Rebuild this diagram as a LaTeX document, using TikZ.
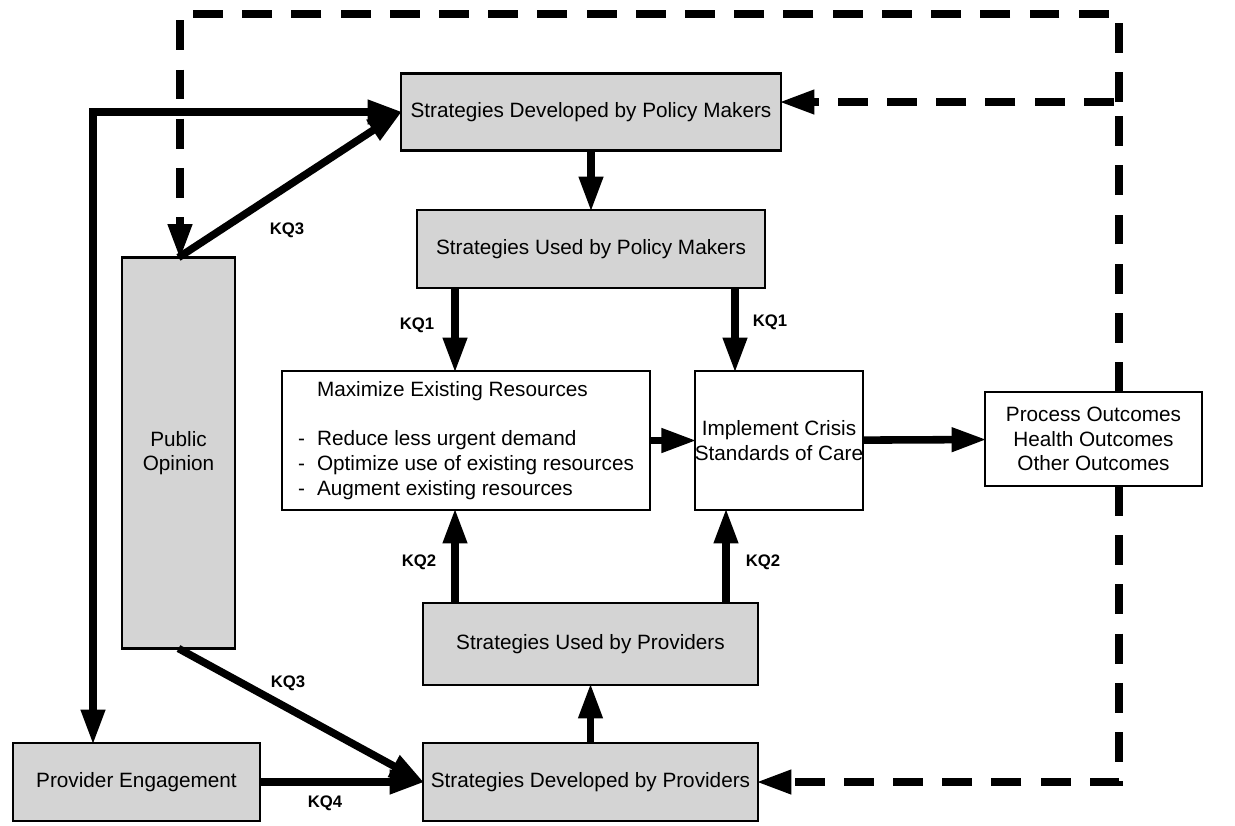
\documentclass[tikz,border=0pt]{standalone}
\usepackage{fontspec}
\setmainfont{Liberation Sans}
\usetikzlibrary{arrows.meta}

\begin{document}
\begin{tikzpicture}[
			graybox/.style={draw, fill=black!17, line width=1.5pt, outer sep=0pt, align=center, inner sep=0pt, font=\fontsize{11.8}{14}\selectfont},
			whitebox/.style={draw, fill=white, line width=1.5pt, outer sep=0pt, align=center, inner sep=0pt, font=\fontsize{11.8}{14}\selectfont},
			arr/.style={line width=4.3pt, shorten >=-1pt, -{Triangle[length=20pt,width=13pt]}},
			dblarr/.style={line width=4.3pt, shorten >=-1pt, shorten <=-1pt, {Triangle[length=20pt,width=13pt]}-{Triangle[length=20pt,width=13pt]}},
			darr/.style={line width=4.3pt, shorten >=-1pt, dash pattern=on 17pt off 11pt, -{Triangle[length=20pt,width=13pt]}},
			kq/.style={font=\fontsize{9.5}{11}\bfseries\selectfont}
		]
		\useasboundingbox (0,0) rectangle (24.7,-16.5);

		\node[graybox, minimum width=7.6cm, minimum height=1.54cm] (sdpm) at (11.82,-2.24) {Strategies Developed by Policy Makers};
		\node[graybox, minimum width=6.96cm, minimum height=1.56cm] (supm) at (11.82,-4.98) {Strategies Used by Policy Makers};
		\node[graybox, minimum width=2.26cm, minimum height=7.82cm] (pubop) at (3.57,-9.06) {Public\\Opinion};
		\node[whitebox, minimum width=7.36cm, minimum height=2.78cm, align=left] (maxres) at (9.32,-8.81) {
			\hspace*{0.38cm}Maximize Existing Resources\\[14pt]
			\makebox[0.38cm][l]{-}Reduce less urgent demand\\
			\makebox[0.38cm][l]{-}Optimize use of existing resources\\
			\makebox[0.38cm][l]{-}Augment existing resources};
		\node[whitebox, minimum width=3.32cm, minimum height=2.78cm] (crisis) at (15.58,-8.81) {Implement Crisis\\Standards of Care};
		\node[whitebox, minimum width=4.34cm, minimum height=1.88cm] (outc) at (21.87,-8.78) {Process Outcomes\\Health Outcomes\\Other Outcomes};
		\node[graybox, minimum width=6.7cm, minimum height=1.64cm] (sup) at (11.81,-12.88) {Strategies Used by Providers};
		\node[graybox, minimum width=6.7cm, minimum height=1.56cm] (sdp) at (11.81,-15.64) {Strategies Developed by Providers};
		\node[graybox, minimum width=4.94cm, minimum height=1.56cm] (peng) at (2.73,-15.64) {Provider Engagement};

		\coordinate (lft) at (1.86,0);
		\coordinate (rgt) at (22.38,0);
		\coordinate (top) at (0,-0.28);
		\coordinate (fbk) at ([yshift=0.2cm]sdpm.east);

		\draw[arr] (sdpm) -- (supm);
		\draw[arr] ([xshift=-2.72cm]supm.south) -- ([xshift=-0.22cm]maxres.north);
		\draw[arr] ([xshift=2.88cm]supm.south) -- ([xshift=-0.88cm]crisis.north);
		\draw[arr] ([xshift=-2.71cm]sup.north) -- ([xshift=-0.22cm]maxres.south);
		\draw[arr] ([xshift=2.71cm]sup.north) -- ([xshift=-1.06cm]crisis.south);
		\draw[arr] (sdp) -- (sup);
		\draw[arr] (maxres) -- (crisis);
		\draw[arr] (crisis) -- (outc);
		\draw[arr] (peng) -- (sdp);
		\draw[arr] (pubop.south) -- (sdp.west);
		\draw[dblarr] (sdpm.west) -- (lft |- sdpm.west) -- ([xshift=-0.87cm]peng.north);
		\draw[arr] (pubop.north) -- (sdpm.west);

		\draw[darr] (rgt |- outc.north) -- (rgt |- fbk) -- (fbk);
		\draw[darr] (rgt |- fbk) -- (rgt |- top) -- ([xshift=0.03cm]pubop.north |- top) -- ([xshift=0.03cm]pubop.north);
		\draw[darr] (rgt |- outc.south) -- (rgt |- sdp.east) -- (sdp.east);

		\node[kq] (kq3a) at (5.74,-4.6) {KQ3};
		\node[kq] (kq1a) at (8.34,-6.5) {KQ1};
		\node[kq] (kq1b) at (15.4,-6.44) {KQ1};
		\node[kq] (kq2a) at (8.38,-11.24) {KQ2};
		\node[kq] (kq2b) at (15.26,-11.24) {KQ2};
		\node[kq] (kq3b) at (5.76,-13.66) {KQ3};
		\node[kq] (kq4) at (6.5,-16.06) {KQ4};
	\end{tikzpicture}
\end{document}
